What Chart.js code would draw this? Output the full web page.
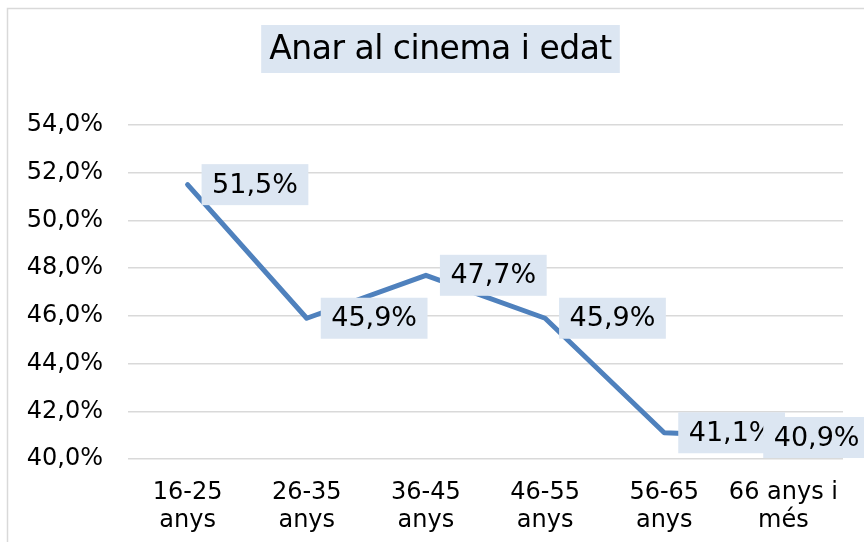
<!DOCTYPE html>
<html>
<head>
<meta charset="utf-8">
<script src="https://cdn.jsdelivr.net/npm/chart.js@4/dist/chart.umd.min.js"></script>
<style>
html,body{margin:0;padding:0;background:#fff;}
#wrap{width:864px;height:542px;position:relative;}
</style>
</head>
<body>
<div id="wrap"><canvas id="c" width="864" height="542"></canvas></div>
<script>
const titleText = 'Anar al cinema i edat';
const categories = [['16-25','anys'],['26-35','anys'],['36-45','anys'],['46-55','anys'],['56-65','anys'],['66 anys i','més']];
const values = [51.5, 45.9, 47.7, 45.9, 41.1, 40.9];
const yMin = 40, yMax = 54, yStep = 2;

const FONT = "'DejaVu Sans', Verdana, sans-serif";
const fmt = v => v.toFixed(1).replace('.', ',') + '%';

const framePlugin = {
  id: 'frame',
  beforeDraw(chart) {
    const ctx = chart.ctx;
    ctx.save();
    ctx.fillStyle = '#fff';
    ctx.fillRect(0, 0, chart.width, chart.height);
    ctx.strokeStyle = '#d9d9d9';
    ctx.lineWidth = 1.5;
    ctx.beginPath();
    ctx.moveTo(7.5, chart.height);
    ctx.lineTo(7.5, 8.5);
    ctx.lineTo(chart.width, 8.5);
    ctx.stroke();
    // title
    ctx.font = '33px ' + FONT;
    try { ctx.letterSpacing = '-0.5px'; } catch (e) {}
    const tw = ctx.measureText(titleText).width;
    const cx = 440.5, cy = 49;
    ctx.fillStyle = '#dce6f2';
    ctx.fillRect(cx - tw / 2 - 8, 25, tw + 16, 48);
    ctx.fillStyle = '#000';
    ctx.textAlign = 'center';
    ctx.textBaseline = 'middle';
    ctx.fillText(titleText, cx, cy + 1);
    try { ctx.letterSpacing = '0px'; } catch (e) {}
    ctx.restore();
  }
};

const labelPlugin = {
  id: 'valueLabels',
  afterDatasetsDraw(chart) {
    const ctx = chart.ctx;
    const meta = chart.getDatasetMeta(0);
    ctx.save();
    ctx.font = '27px ' + FONT;
    ctx.textBaseline = 'middle';
    ctx.textAlign = 'left';
    meta.data.forEach((pt, i) => {
      const txt = fmt(values[i]);
      const tw = ctx.measureText(txt).width;
      const w = tw + 21, h = 41;
      let x = pt.x + 14;
      if (x + w > chart.width + 6) x = chart.width + 6 - w;
      const y = pt.y - h / 2;
      ctx.fillStyle = '#dce6f2';
      ctx.fillRect(x, y, w, h);
      ctx.fillStyle = '#000';
      ctx.fillText(txt, x + 10.5, pt.y + 1);
    });
    ctx.restore();
  }
};

new Chart(document.getElementById('c'), {
  type: 'line',
  data: {
    labels: categories,
    datasets: [{
      data: values,
      borderColor: '#4f81bd',
      borderWidth: 5,
      borderJoinStyle: 'round',
      borderCapStyle: 'round',
      pointRadius: 0,
      pointHoverRadius: 0,
      tension: 0,
      fill: false
    }]
  },
  options: {
    responsive: false,
    animation: false,
    events: [],
    layout: { padding: { top: 125, left: 17, right: 21, bottom: 0 } },
    plugins: {
      legend: { display: false },
      title: { display: false },
      tooltip: { enabled: false }
    },
    scales: {
      x: {
        offset: true,
        grid: { display: false, drawTicks: false },
        border: { display: false },
        ticks: {
          color: '#000',
          font: { family: FONT, size: 24, lineHeight: 1.15 },
          padding: 20,
          maxRotation: 0,
          autoSkip: false
        },
        afterFit(s) { s.height = 83; }
      },
      y: {
        min: yMin,
        max: yMax,
        grid: { color: '#d9d9d9', lineWidth: 1.5, drawTicks: false },
        border: { display: false },
        ticks: {
          stepSize: yStep,
          color: '#000',
          font: { family: FONT, size: 24 },
          padding: 25,
          callback: v => fmt(v)
        },
        afterFit(s) { s.width = 111; }
      }
    }
  },
  plugins: [framePlugin, labelPlugin]
});
</script>
</body>
</html>
